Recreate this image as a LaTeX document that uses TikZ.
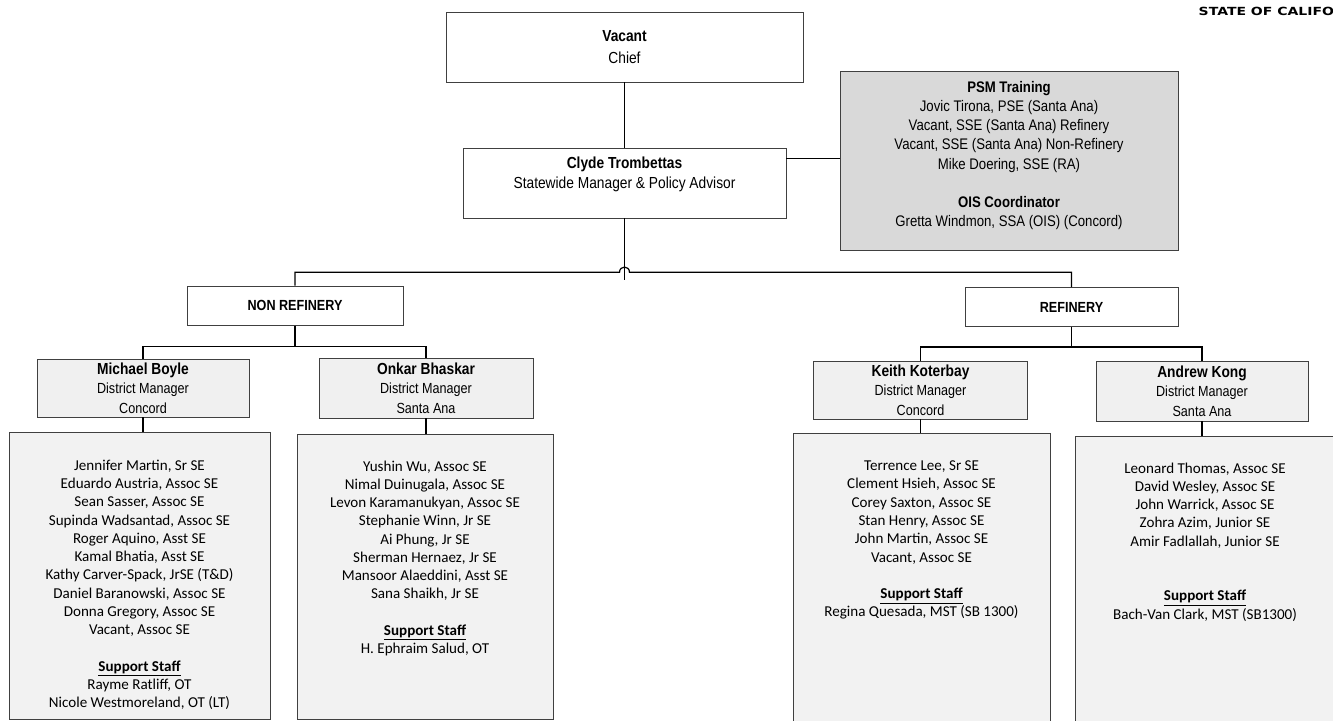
\documentclass[tikz,border=0pt]{standalone}
\usepackage{fontspec}
\setmainfont{Carlito}
\newfontfamily\narrowfont[FakeStretch=0.86]{Liberation Sans}
\newfontfamily\statefont[FakeStretch=1.25]{DejaVu Sans}
\usetikzlibrary{positioning}
\usetikzlibrary{calc}
\tikzset{box/.style={draw=black!75, line width=0.5pt, inner sep=2pt, align=center, fill=white,
  font=\narrowfont\fontsize{11}{14.5}\selectfont}}
\tikzset{dmbox/.style={box, fill=black!6}}
\tikzset{staffbox/.style={draw=black!75, line width=0.5pt, fill=black!5}}
\tikzset{stafftext/.style={align=center, inner sep=0pt, font=\fontsize{11.3}{13.7}\selectfont}}
\tikzset{link/.style={draw=black, line width=0.9pt}}

\begin{document}
\begin{tikzpicture}[x=0.75pt,y=-0.75pt]
\useasboundingbox (0,0) rectangle (1333,720);
\clip (0,0) rectangle (1333,720);

\node (state) [anchor=west, font=\statefont\bfseries\fontsize{8.4}{10}\selectfont] at (1194,11) {STATE OF CALIFO};

% top
\node[box, minimum width=267.75pt, minimum height=52.5pt, font=\narrowfont\fontsize{12}{16.5}\selectfont] (chief) at (624.5,47)
  {\textbf{Vacant}\\Chief};
\node[box, minimum width=242.25pt, minimum height=52.5pt, font=\narrowfont\fontsize{12}{15}\selectfont] (clyde) at (624.5,183)
  {\textbf{Clyde Trombettas}\\Statewide Manager \& Policy Advisor\\\mbox{}};
\node[box, fill=black!15, minimum width=253.5pt, minimum height=134.25pt, font=\narrowfont\fontsize{11.5}{14.4}\selectfont] (psm) at (1009,160.5)
  {\textbf{PSM Training}\\Jovic Tirona, PSE (Santa Ana)\\Vacant, SSE (Santa Ana) Refinery\\
   Vacant, SSE (Santa Ana) Non-Refinery\\Mike Doering, SSE (RA)\\[14.4pt]
   \textbf{OIS Coordinator}\\Gretta Windmon, SSA (OIS) (Concord)\\[-4.5pt]\mbox{}};

% divisions
\node[box, minimum width=162.25pt, minimum height=29.5pt] (nonref) at (295,305.5) {\textbf{NON REFINERY}};
\node[box, minimum width=159.75pt, minimum height=29.5pt] (ref) at (1071.5,307) {\textbf{REFINERY}};

% district managers
\node[dmbox, minimum width=159pt, minimum height=43.5pt] (boyle) at (143,388)
  {\textbf{\large Michael Boyle}\\District Manager\\Concord};
\node[dmbox, minimum width=160.5pt, minimum height=45pt] (bhaskar) at (426,388)
  {\textbf{\large Onkar Bhaskar}\\District Manager\\Santa Ana};
\node[dmbox, minimum width=160.5pt, minimum height=43.5pt] (koterbay) at (920.5,390)
  {\textbf{\large Keith Koterbay}\\District Manager\\Concord};
\node[dmbox, minimum width=159pt, minimum height=45pt] (kong) at (1202,391)
  {\textbf{\large Andrew Kong}\\District Manager\\Santa Ana};

% staff
\node[staffbox, minimum width=195.75pt, minimum height=215.25pt] (boylestaff) at (139.5,575.5) {};
\node[staffbox, minimum width=192pt, minimum height=213.75pt] (bhaskarstaff) at (425,576.5) {};
\node[staffbox, minimum width=192.75pt, minimum height=222.75pt] (koterbaystaff) at (921.5,581.5) {};
\node[staffbox, minimum width=195pt, minimum height=220.5pt] (kongstaff) at (1205,583) {};

\node[stafftext] (boylelist) [below=21pt of boylestaff.north]
  {Jennifer Martin, Sr SE\\Eduardo Austria, Assoc SE\\Sean Sasser, Assoc SE\\
   Supinda Wadsantad, Assoc SE\\Roger Aquino, Asst SE\\Kamal Bhatia, Asst SE\\
   Kathy Carver-Spack, JrSE (T\&D)\\Daniel Baranowski, Assoc SE\\Donna Gregory, Assoc SE\\
   Vacant, Assoc SE\\[13.7pt]
   \underline{\textbf{Support Staff}}\\Rayme Ratliff, OT\\Nicole Westmoreland, OT (LT)};
\node[stafftext] (bhaskarlist) [below=20pt of bhaskarstaff.north]
  {Yushin Wu, Assoc SE\\Nimal Duinugala, Assoc SE\\Levon Karamanukyan, Assoc SE\\
   Stephanie Winn, Jr SE\\Ai Phung, Jr SE\\Sherman Hernaez, Jr SE\\
   Mansoor Alaeddini, Asst SE\\Sana Shaikh, Jr SE\\[13.7pt]
   \underline{\textbf{Support Staff}}\\H. Ephraim Salud, OT};
\node[stafftext] (koterbaylist) [below=21pt of koterbaystaff.north]
  {Terrence Lee, Sr SE\\Clement Hsieh, Assoc SE\\Corey Saxton, Assoc SE\\
   Stan Henry, Assoc SE\\John Martin, Assoc SE\\Vacant, Assoc SE\\[13.7pt]
   \underline{\textbf{Support Staff}}\\Regina Quesada, MST (SB 1300)};
\node[stafftext] (konglist) [below=20pt of kongstaff.north]
  {Leonard Thomas, Assoc SE\\David Wesley, Assoc SE\\John Warrick, Assoc SE\\
   Zohra Azim, Junior SE\\Amir Fadlallah, Junior SE\\[27.4pt]
   \underline{\textbf{Support Staff}}\\Bach-Van Clark, MST (SB1300)};

% links
\draw[link] (chief) -- (clyde);
\draw[link] (clyde.north east) ++(0,11) coordinate (adv) -- (adv -| psm.west);

\coordinate (bus) at ($(clyde.south)+(0,54)$);
\draw[link] (clyde.south) -- ++(0,62);
\draw[link] (nonref.north) |- ($(bus)+(-5,0)$)
  .. controls ($(bus)+(-5,-7)$) and ($(bus)+(5,-7)$) .. ($(bus)+(5,0)$)
  -| (ref.north);

\draw[link] (nonref.south) -- ++(0,21) coordinate (nonbus);
\draw[link] (boyle.north) |- (nonbus) -| (bhaskar.north);
\draw[link] (ref.south) -- ++(0,20) coordinate (refbus);
\draw[link] (koterbay.north) |- (refbus) -| (kong.north);

\draw[link] (boyle.south) -- (boyle.south |- boylestaff.north);
\draw[link] (bhaskar.south) -- (bhaskar.south |- bhaskarstaff.north);
\draw[link] (koterbay.south) -- (koterbay.south |- koterbaystaff.north);
\draw[link] (kong.south) -- (kong.south |- kongstaff.north);

\end{tikzpicture}
\end{document}
